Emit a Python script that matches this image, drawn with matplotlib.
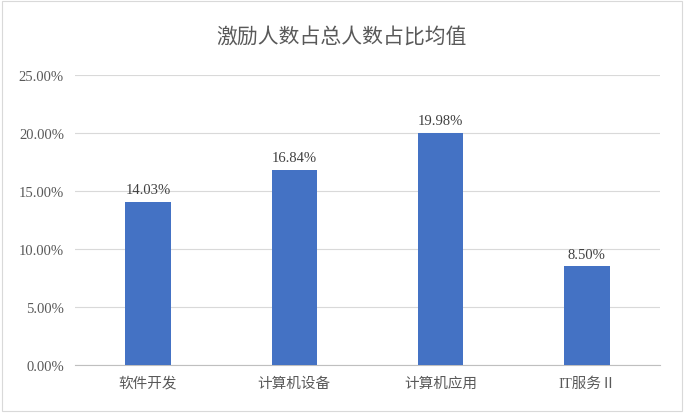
import matplotlib
matplotlib.use("Agg")
import matplotlib.pyplot as plt
from matplotlib.patches import Rectangle
from matplotlib.ticker import FuncFormatter

categories = ["软件开发", "计算机设备", "计算机应用", "IT服务Ⅱ"]
values = [14.03, 16.84, 19.98, 8.50]
yticks = [0, 5, 10, 15, 20, 25]

fam = ["Liberation Serif", "Noto Sans CJK SC", "DejaVu Sans"]
plt.rcParams['font.family'] = fam

fig = plt.figure(figsize=(6.84, 4.14), dpi=100)
ax = fig.add_axes([75/684, 1-366/414, (660-75)/684, (366-76)/414])
x = range(len(categories))
ax.bar(x, values, width=0.31, color="#4472C4", zorder=3)
for i, v in enumerate(values):
    ax.text(i, v + 0.5, f"{v:.2f}%", ha="center", va="bottom", fontsize=10.5, color="#404040")
ax.set_ylim(0, 25)
ax.set_xlim(-0.5, 3.5)
ax.set_yticks(yticks)
ax.yaxis.set_major_formatter(FuncFormatter(lambda v, p: f"{v:.2f}%"))
ax.set_xticks(list(x))
ax.set_xticklabels(categories)
ax.tick_params(axis="both", length=0, labelsize=10.5, colors="#595959", pad=8)
ax.grid(axis="y", color="#D9D9D9", lw=0.8, zorder=0)
for s in ["top", "right", "left"]:
    ax.spines[s].set_visible(False)
ax.spines["bottom"].set_color("#BFBFBF")
fig.text(0.5, 1-37/414, "激励人数占总人数占比均值", ha="center", va="center",
         fontsize=15, color="#595959", family=["Noto Sans CJK SC", "DejaVu Sans"])
fig.patches.append(Rectangle((0.003, 0.005), 0.994, 0.99, transform=fig.transFigure,
                             fill=False, edgecolor="#D9D9D9", lw=0.8))
fig.savefig("out.png", dpi=100)
